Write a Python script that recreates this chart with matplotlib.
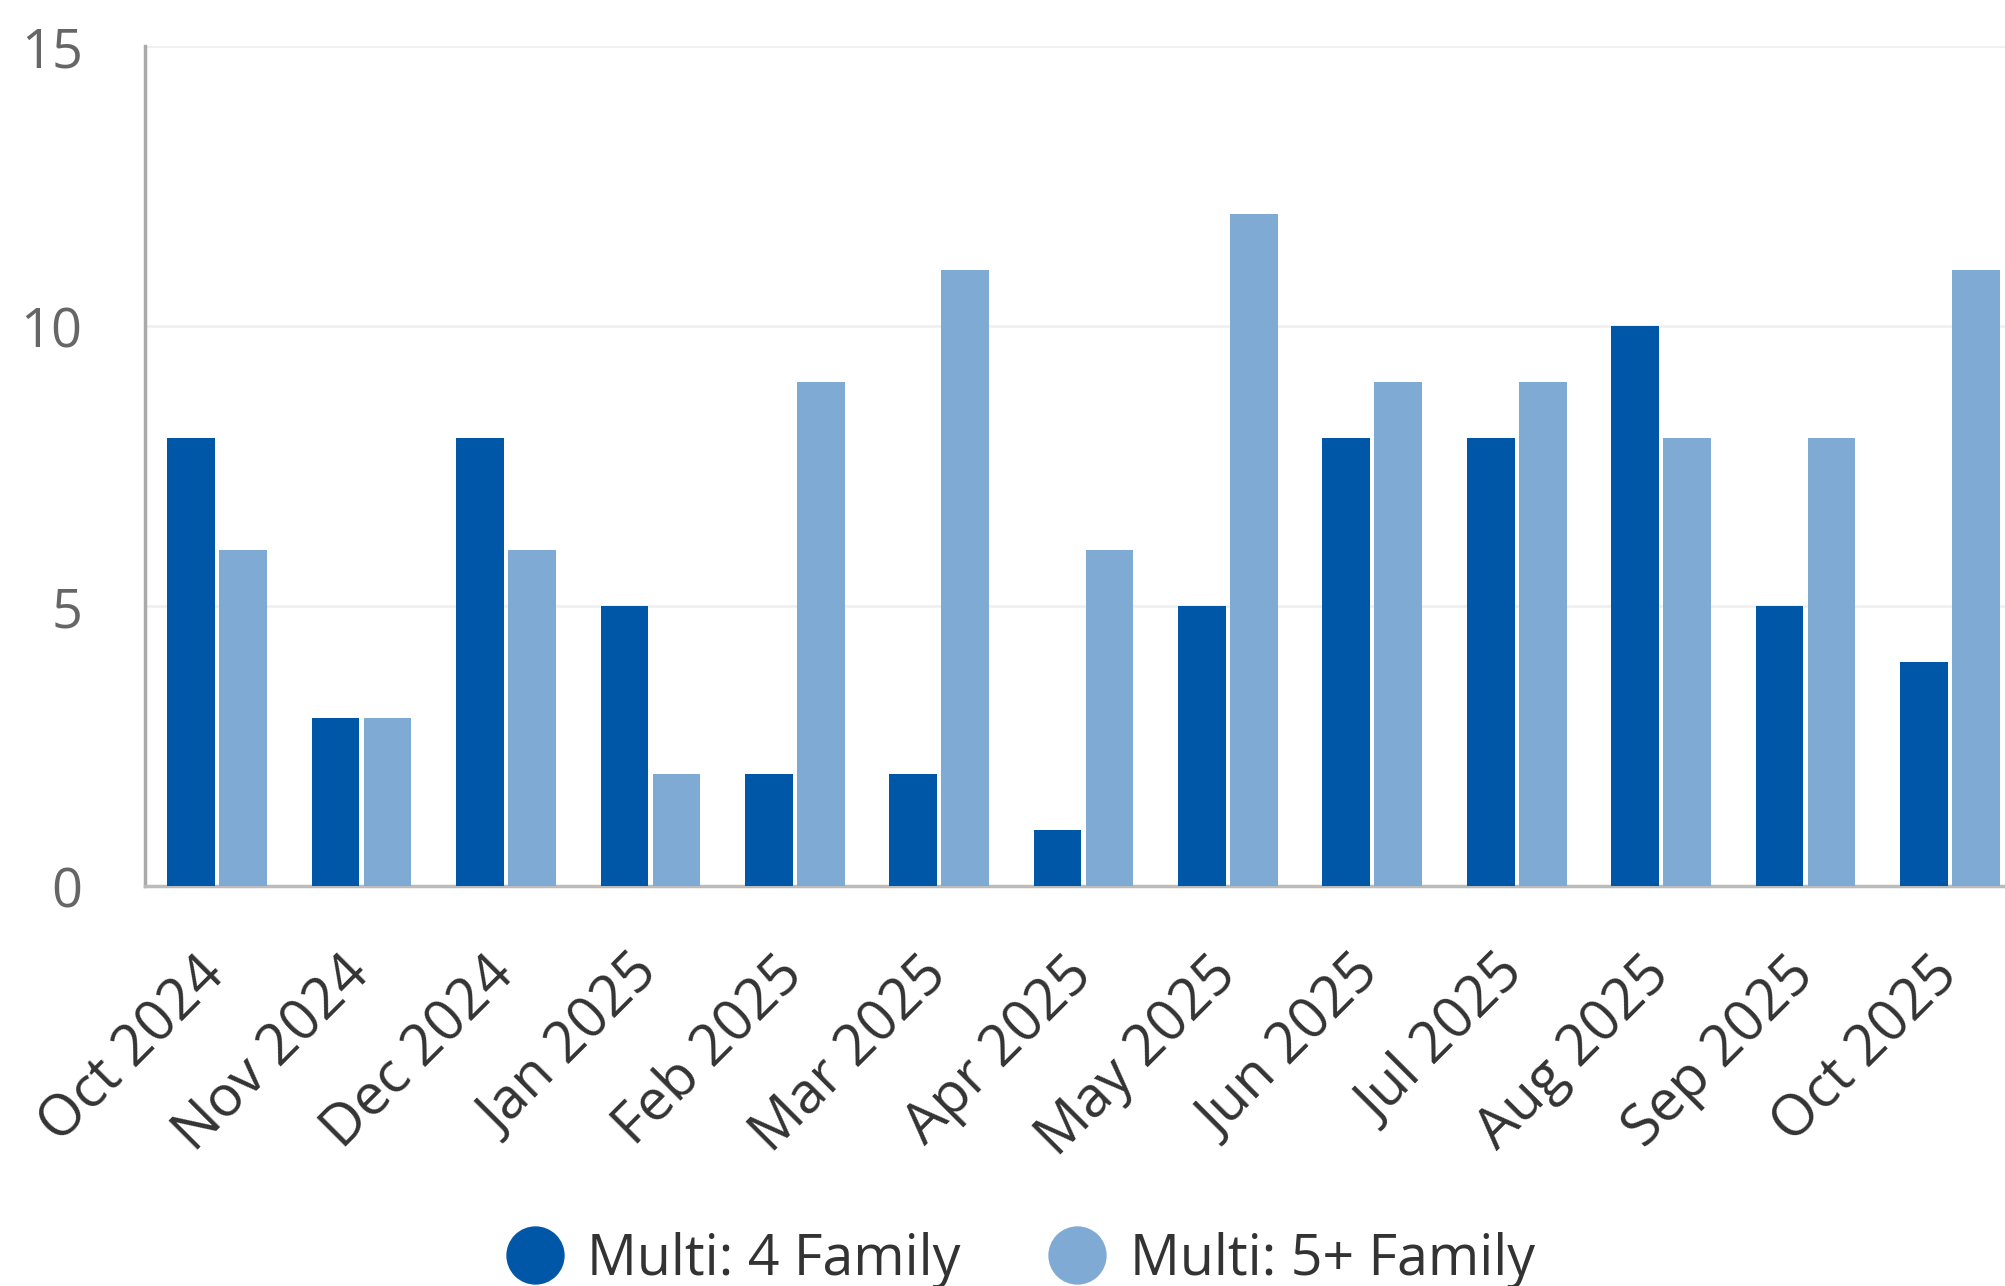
import numpy as np
import matplotlib.pyplot as plt
from matplotlib.lines import Line2D

plt.rcParams['font.family'] = ['Open Sans', 'DejaVu Sans']

# monthly counts by property type
months = ['Oct 2024', 'Nov 2024', 'Dec 2024', 'Jan 2025', 'Feb 2025', 'Mar 2025', 'Apr 2025',
          'May 2025', 'Jun 2025', 'Jul 2025', 'Aug 2025', 'Sep 2025', 'Oct 2025']
four_family = [8, 3, 8, 5, 2, 2, 1, 5, 8, 8, 10, 5, 4]
five_plus_family = [6, 3, 6, 2, 9, 11, 6, 12, 9, 9, 8, 8, 11]
series_names = ['Multi: 4 Family', 'Multi: 5+ Family']
yticks = [0, 5, 10, 15]

dark_blue = '#0057a8'
light_blue = '#7eaad4'

fig = plt.figure(figsize=(20.06, 12.86), dpi=100)
# plot area runs a little past the right edge of the figure
ax = fig.add_axes([0.0723, 0.311, 0.9357, 0.6532])

x = np.arange(len(months))
w = 0.33
ax.bar(x - 0.18, four_family, width=w, color=dark_blue, zorder=3)
ax.bar(x + 0.18, five_plus_family, width=w, color=light_blue, zorder=3)

ax.set_xlim(-0.5, len(months) - 0.5)
ax.set_ylim(0, 15)
ax.set_yticks(yticks)
ax.set_yticklabels([str(v) for v in yticks], fontsize=39, color='#666666')
ax.grid(axis='y', color='#f0f0f0', linewidth=2, zorder=0)

ax.set_xticks(x)
ax.set_xticklabels(months, fontsize=41, color='#333333', rotation=45,
                   ha='right', va='center', rotation_mode='anchor')
ax.tick_params(axis='x', length=0, pad=58)
ax.tick_params(axis='y', length=0, pad=45)

for side in ['top', 'right']:
    ax.spines[side].set_visible(False)
ax.spines['left'].set_color('#aaaaaa')
ax.spines['left'].set_linewidth(2.5)
ax.spines['bottom'].set_color('#bbbbbb')
ax.spines['bottom'].set_linewidth(2.5)

handles = [Line2D([], [], linestyle='none', marker='o', markersize=41, color=c)
           for c in (dark_blue, light_blue)]
leg = fig.legend(handles, series_names, loc='center', bbox_to_anchor=(0.509, 0.02),
                 ncol=2, frameon=False, fontsize=40, handlelength=1.0,
                 handletextpad=0.45, columnspacing=1.6, borderpad=0)
for t in leg.get_texts():
    t.set_color('#333333')

fig.savefig('out.png', dpi=100)
